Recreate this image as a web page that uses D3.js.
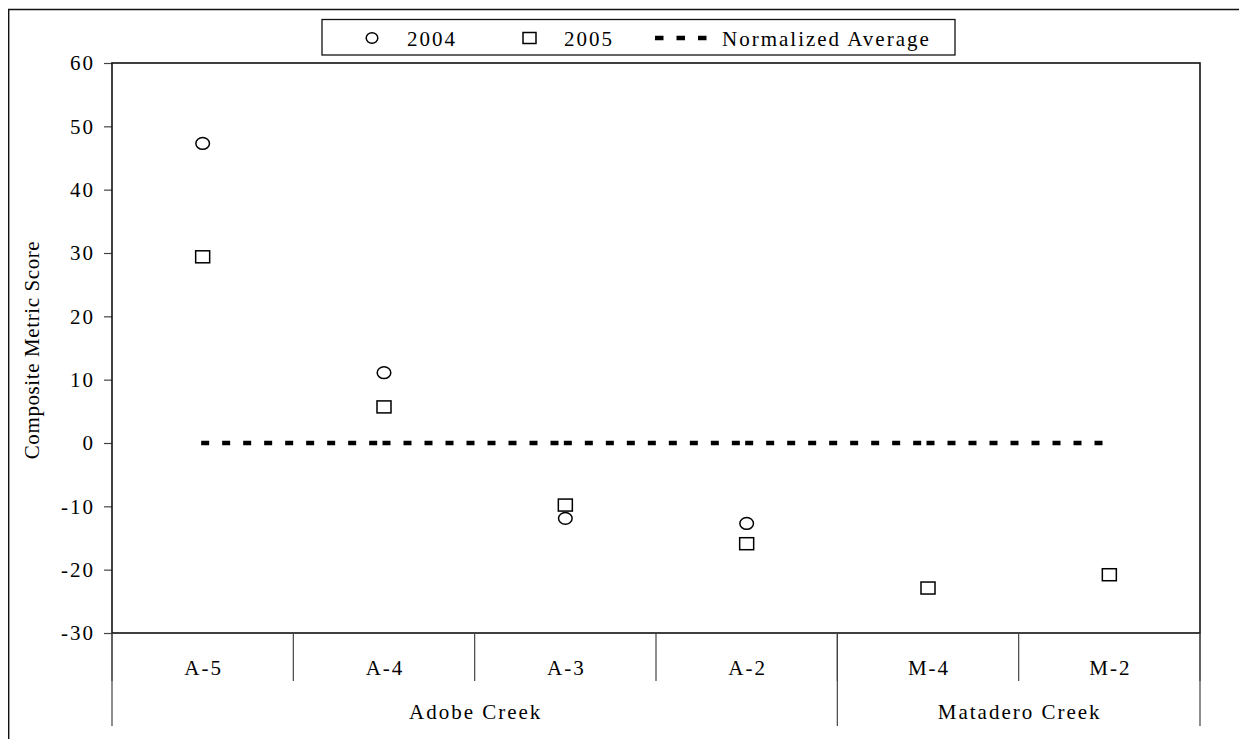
<!DOCTYPE html>
<html>
<head>
<meta charset="utf-8">
<script src="https://cdn.jsdelivr.net/npm/d3@7"></script>
<style>
  html, body { margin: 0; padding: 0; background: #fff; }
  svg { display: block; font-family: "Liberation Serif", "Times New Roman", serif; }
  svg text { font-family: "Liberation Serif", "Times New Roman", serif !important; fill: #000; }
</style>
</head>
<body>
<svg id="chart" width="1239" height="739"></svg>
<script>
// Sampling sites along the two creeks, in plotting order
const sites = ["A-5", "A-4", "A-3", "A-2", "M-4", "M-2"];
const siteCreek = ["Adobe Creek", "Adobe Creek", "Adobe Creek", "Adobe Creek", "Matadero Creek", "Matadero Creek"];
const creeks = ["Adobe Creek", "Matadero Creek"];

// Composite metric scores per site (null = not sampled that year)
const score2004 = [47.3, 11.1, -11.9, -12.7, null, null];
const score2005 = [29.4, 5.7, -9.8, -15.9, -22.9, -20.8];
const normalizedAverage = [0, 0, 0, 0, 0, 0];

const yTicks = [-30, -20, -10, 0, 10, 20, 30, 40, 50, 60];
const legendLabels = ["2004", "2005", "Normalized Average"];
const yTitle = "Composite Metric Score";

const FONT = "'Liberation Serif', 'Times New Roman', serif";
const svg = d3.select("#chart");
const plot = { left: 112, right: 1200, top: 63, bottom: 633 };

const x = d3.scaleBand().domain(sites).range([plot.left, plot.right]).padding(0);
const y = d3.scaleLinear().domain([d3.min(yTicks), d3.max(yTicks)]).range([plot.bottom, plot.top]);
const cx = s => x(s) + x.bandwidth() / 2;

// Outer frame (top and left edges visible within the page)
svg.append("path")
  .attr("d", "M8.7,760V9.5H1260")
  .attr("fill", "none").attr("stroke", "#111").attr("stroke-width", 1.4);

// Y axis (plain hyphen for negative numbers)
const yAxis = d3.axisLeft(y).tickValues(yTicks).tickSize(8).tickSizeOuter(0).tickPadding(0)
  .tickFormat(d => String(d));
const yg = svg.append("g").attr("transform", `translate(${plot.left},0)`).call(yAxis)
  .attr("font-family", FONT);
yg.select(".domain").remove();
yg.selectAll(".tick line").attr("stroke", "#444").attr("stroke-width", 1.2);
yg.selectAll(".tick text")
  .attr("x", -17).attr("dy", "0.33em")
  .attr("text-anchor", "end")
  .attr("font-family", FONT)
  .style("font-size", "21px")
  .style("letter-spacing", "2px")
  .attr("fill", "#000");

svg.append("text")
  .attr("transform", `translate(38.5,${(plot.top + plot.bottom) / 2 + 2}) rotate(-90)`)
  .attr("text-anchor", "middle")
  .attr("font-family", FONT)
  .style("font-size", "21px")
  .style("letter-spacing", "0.6px")
  .text(yTitle);

// Plot frame
svg.append("rect")
  .attr("x", plot.left).attr("y", plot.top)
  .attr("width", plot.right - plot.left).attr("height", plot.bottom - plot.top)
  .attr("fill", "none").attr("stroke", "#111").attr("stroke-width", 1.6);

// Category axis: site dividers, site labels, creek dividers and labels
const siteEdges = sites.map(s => x(s)).concat([plot.right]);
svg.append("g").selectAll("line").data(siteEdges).join("line")
  .attr("x1", d => d).attr("x2", d => d)
  .attr("y1", plot.bottom).attr("y2", plot.bottom + 48)
  .attr("stroke", "#444").attr("stroke-width", 1.2);

svg.append("g").selectAll("text").data(sites).join("text")
  .attr("x", d => cx(d) + 1).attr("y", plot.bottom + 42)
  .attr("text-anchor", "middle")
  .attr("font-family", FONT)
  .style("font-size", "21px").style("letter-spacing", "2px")
  .text(d => d);

const creekSpans = creeks.map(c => {
  const members = sites.filter((s, i) => siteCreek[i] === c);
  return { name: c, x0: x(members[0]), x1: x(members[members.length - 1]) + x.bandwidth() };
});
const creekEdges = [creekSpans[0].x0].concat(creekSpans.map(c => c.x1));
svg.append("g").selectAll("line").data(creekEdges).join("line")
  .attr("x1", d => d).attr("x2", d => d)
  .attr("y1", plot.bottom).attr("y2", plot.bottom + 93)
  .attr("stroke", "#444").attr("stroke-width", 1.2);

svg.append("g").selectAll("text").data(creekSpans).join("text")
  .attr("x", d => (d.x0 + d.x1) / 2 + 1).attr("y", plot.bottom + 86)
  .attr("text-anchor", "middle")
  .attr("font-family", FONT)
  .style("font-size", "21px").style("letter-spacing", "2px")
  .text(d => d.name);

// Normalized average: dashed segments between consecutive sites
const dash = "8,13";
const avgPairs = d3.pairs(sites.map((s, i) => ({ s, v: normalizedAverage[i] })));
svg.append("g").selectAll("line").data(avgPairs).join("line")
  .attr("x1", d => cx(d[0].s) - 1.5).attr("x2", d => cx(d[1].s) - 1.5)
  .attr("y1", d => y(d[0].v)).attr("y2", d => y(d[1].v))
  .attr("stroke", "#000").attr("stroke-width", 4.5)
  .attr("stroke-dasharray", dash);

// 2004 scores: open circles
svg.append("g").selectAll("ellipse")
  .data(sites.map((s, i) => ({ s, v: score2004[i] })).filter(d => d.v !== null))
  .join("ellipse")
  .attr("cx", d => cx(d.s)).attr("cy", d => y(d.v))
  .attr("rx", 6.8).attr("ry", 5.9)
  .attr("fill", "#fff").attr("stroke", "#000").attr("stroke-width", 1.5);

// 2005 scores: open squares
svg.append("g").selectAll("rect")
  .data(sites.map((s, i) => ({ s, v: score2005[i] })).filter(d => d.v !== null))
  .join("rect")
  .attr("x", d => cx(d.s) - 7).attr("y", d => y(d.v) - 6)
  .attr("width", 14).attr("height", 12)
  .attr("fill", "#fff").attr("stroke", "#000").attr("stroke-width", 1.5);

// Legend
const lg = svg.append("g");
lg.append("rect")
  .attr("x", 322).attr("y", 19.5).attr("width", 633).attr("height", 35.5)
  .attr("fill", "#fff").attr("stroke", "#111").attr("stroke-width", 1.3);
const ly = 38;
lg.append("ellipse").attr("cx", 372).attr("cy", ly)
  .attr("rx", 5.8).attr("ry", 5.3)
  .attr("fill", "none").attr("stroke", "#000").attr("stroke-width", 1.5);
lg.append("rect").attr("x", 523).attr("y", ly - 5.5).attr("width", 13).attr("height", 11)
  .attr("fill", "none").attr("stroke", "#000").attr("stroke-width", 1.5);
lg.append("line").attr("x1", 655).attr("x2", 709).attr("y1", ly).attr("y2", ly)
  .attr("stroke", "#000").attr("stroke-width", 4.5).attr("stroke-dasharray", "8.5,13");
const legendX = [407, 564, 722];
lg.selectAll("text.lab").data(legendLabels).join("text")
  .attr("class", "lab")
  .attr("x", (d, i) => legendX[i]).attr("y", 46)
  .attr("font-family", FONT)
  .style("font-size", "21px").style("letter-spacing", "2px")
  .text(d => d);
</script>
</body>
</html>
